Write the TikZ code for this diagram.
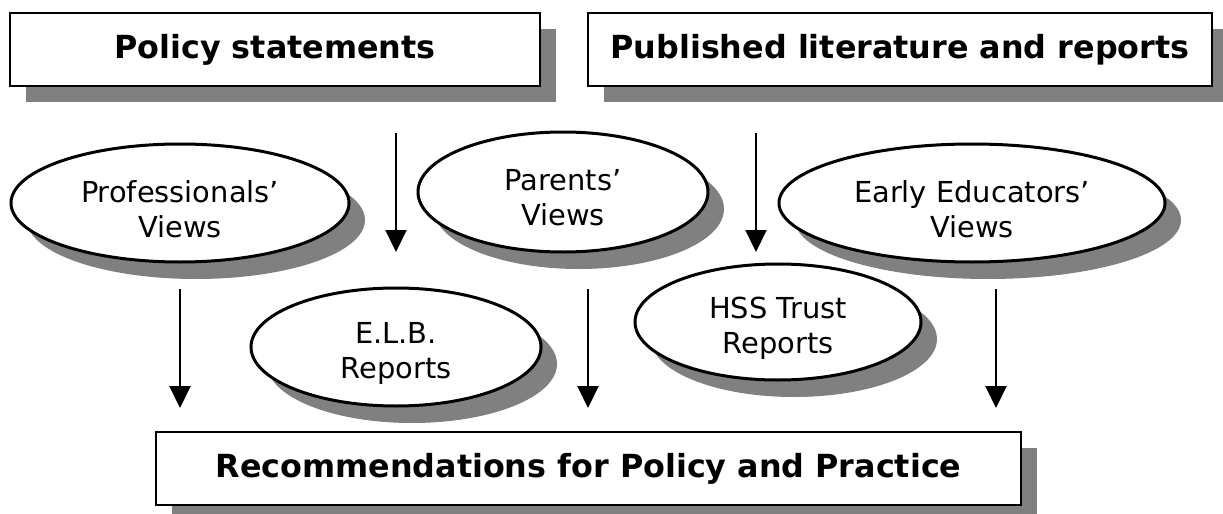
\documentclass[tikz,border=0pt]{standalone}
\usepackage{fontspec}
\setmainfont{DejaVu Sans}
\usetikzlibrary{shapes.geometric,shadows,arrows.meta}

\begin{document}
\begin{tikzpicture}[x=0.5pt, y=-0.5pt,
    srcbox/.style={draw, line width=1pt, fill=white, minimum height=36.5pt, inner sep=0pt,
      drop shadow={shadow xshift=8pt, shadow yshift=-8pt, fill=gray, opacity=1},
      font=\fontsize{15.9}{19}\selectfont\bfseries},
    oval/.style={ellipse, draw, line width=1.5pt, fill=white, inner sep=0pt,
      drop shadow={shadow xshift=8pt, shadow yshift=-8.5pt, fill=gray, opacity=1}},
    ovaltext/.style={align=center, font=\fontsize{14.45}{17.5}\selectfont},
    flow/.style={-{Triangle[width=10.5pt,length=11pt]}, line width=1pt}]
    \useasboundingbox (0,0) rectangle (1223,514);
    \node[srcbox, minimum width=265pt] (pol) at (275,49.5) {Policy statements};
    \node[srcbox, minimum width=312pt] (lit) at (900,49.5) {Published literature and reports};
    \node[srcbox, minimum width=432.5pt] (rec) at (588.5,468.5) {Recommendations for Policy and Practice};
    \node[oval, minimum width=169pt, minimum height=59pt] (prof) at (180,203) {};
    \node[oval, minimum width=145pt, minimum height=60pt] (par) at (563,192) {};
    \node[oval, minimum width=193pt, minimum height=59pt] (early) at (972,203) {};
    \node[oval, minimum width=145pt, minimum height=59pt] (elb) at (396,347) {};
    \node[oval, minimum width=143pt, minimum height=58pt] (hss) at (778,322) {};
    \node[ovaltext] (proft) at ([yshift=-3pt]prof.center) {Professionals’\\Views};
    \node[ovaltext] (part) at ([yshift=-3pt]par.center) {Parents’\\Views};
    \node[ovaltext] (earlyt) at ([yshift=-3pt]early.center) {Early Educators’\\Views};
    \node[ovaltext] (elbt) at ([yshift=-3pt]elb.center) {E.L.B.\\Reports};
    \node[ovaltext] (hsst) at ([yshift=-3pt]hss.center) {HSS Trust\\Reports};
    \coordinate (p1) at (396,133);
    \coordinate (q1) at (396,252);
    \coordinate (p2) at (756,133);
    \coordinate (q2) at (756,252);
    \coordinate (p3) at (180,289);
    \coordinate (q3) at (180,408);
    \coordinate (p4) at (588,289);
    \coordinate (q4) at (588,408);
    \coordinate (p5) at (996,289);
    \coordinate (q5) at (996,408);
    \draw [flow] (p1) -- (q1);
    \draw [flow] (p2) -- (q2);
    \draw [flow] (p3) -- (q3);
    \draw [flow] (p4) -- (q4);
    \draw [flow] (p5) -- (q5);
  \end{tikzpicture}
\end{document}
